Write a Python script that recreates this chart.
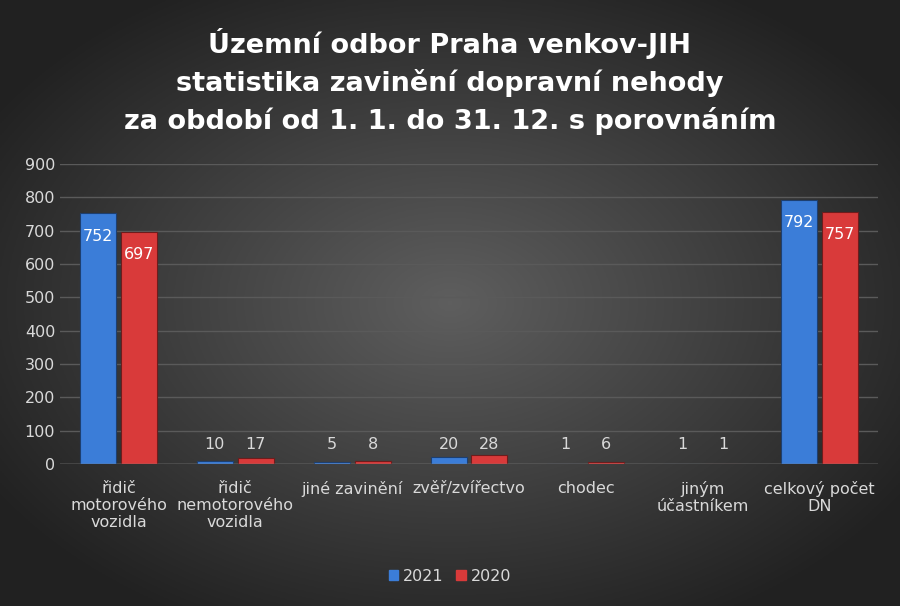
import numpy as np, pandas as pd, matplotlib
matplotlib.use("Agg")
import matplotlib.pyplot as plt, seaborn as sns

categories = ["řidič\nmotorového\nvozidla", "řidič\nnemotorového\nvozidla", "jiné zavinění",
              "zvěř/zvířectvo", "chodec", "jiným\núčastníkem", "celkový počet\nDN"]
v2021 = [752, 10, 5, 20, 1, 1, 792]
v2020 = [697, 17, 8, 28, 6, 1, 757]
years = ["2021", "2020"]
yticks = list(range(0, 1000, 100))

df = pd.DataFrame({"cat": categories * 2, "val": v2021 + v2020,
                   "rok": [years[0]] * 7 + [years[1]] * 7})

fig = plt.figure(figsize=(9, 6.06), dpi=100)
bg = fig.add_axes([0, 0, 1, 1]); bg.axis("off")
yy, xx = np.mgrid[-1:1:300j, -1:1:450j]
r = np.sqrt(xx**2 + yy**2)
g = np.clip(0.37 - 0.2 * r, 0.13, 0.4)
bg.imshow(np.dstack([g, g, g]), aspect="auto", extent=[0, 1, 0, 1])

ax = fig.add_axes([0.0667, 0.2343, 0.9089, 0.495])
ax.patch.set_alpha(0)
sns.barplot(data=df, x="cat", y="val", hue="rok", palette=["#3b7dd8", "#d93a3a"],
            ax=ax, width=0.7, gap=0.12, saturation=1, legend=False)
ax.set_ylim(0, 900); ax.set_yticks(yticks)
ax.set_xlim(-0.5, 6.5)
for s in ax.spines.values(): s.set_visible(False)
ax.grid(axis="y", color="#5a5a5a", lw=1); ax.set_axisbelow(True)
ax.axhline(0, color="#8a8a8a", lw=1)
ax.tick_params(colors="#d9d9d9", labelsize=11.5, length=0)
ax.tick_params(axis="x", pad=12)
ax.set_xlabel(""); ax.set_ylabel("")
for c in ax.containers:
    for p in c:
        h = p.get_height()
        x = p.get_x() + p.get_width() / 2
        if h > 100:
            ax.text(x, h - 68, f"{int(h)}", ha="center", va="center", color="white", fontsize=11.5)
        else:
            ax.text(x, h + 60 - h, f"{int(h)}", ha="center", va="center", color="#d9d9d9", fontsize=11.5)
        p.set_edgecolor("#1d3f70" if p.get_facecolor()[2] > 0.5 else "#6e1c1c")
        p.set_linewidth(0.8)

fig.text(0.5, 0.865, "Územní odbor Praha venkov-JIH\nstatistika zavinění dopravní nehody\nza období od 1. 1. do 31. 12. s porovnáním",
         ha="center", va="center", color="white", fontsize=19.5, fontweight="bold", linespacing=1.45)
from matplotlib.patches import Patch
fig.legend(handles=[Patch(color="#3b7dd8", label="2021"), Patch(color="#d93a3a", label="2020")],
           loc="center", bbox_to_anchor=(0.5, 0.049), ncol=2, frameon=False,
           labelcolor="#d9d9d9", fontsize=11.5, handlelength=0.6, handleheight=0.6, columnspacing=0.8, handletextpad=0.3)
fig.savefig("out.png", dpi=100)
